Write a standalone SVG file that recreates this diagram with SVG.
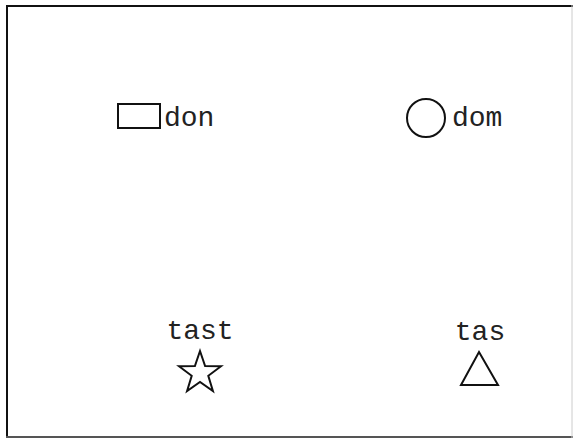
<svg xmlns="http://www.w3.org/2000/svg" width="575" height="440" viewBox="0 0 575 440">
<style>
.t{font-family:"Liberation Mono","Courier New",monospace;font-size:28px;fill:#222}
.s{fill:none;stroke:#111;stroke-width:2}
</style>
<rect width="575" height="440" fill="#fff"/>
<g id="frame">
<line x1="7" y1="5" x2="7" y2="438" stroke="#111" stroke-width="2"/>
<line x1="6" y1="6" x2="573" y2="6" stroke="#111" stroke-width="2"/>
<line x1="6" y1="437" x2="573" y2="437" stroke="#555" stroke-width="2"/>
<line x1="572" y1="5" x2="572" y2="438" stroke="#ccc" stroke-width="1"/>
</g>
<g id="don">
<rect class="s" x="118" y="104" width="42" height="24"/>
<text class="t" x="164" y="126">don</text>
</g>
<g id="dom">
<circle class="s" cx="426" cy="118" r="19"/>
<text class="t" x="452" y="126">dom</text>
</g>
<g id="tast">
<text class="t" x="200" y="339" text-anchor="middle">tast</text>
<polygon class="s" points="200,351 205.1,366 221,366.2 208.3,375.8 212.9,391 200,381.9 187.1,391 191.7,375.8 179,366.2 194.9,366"/>
</g>
<g id="tas">
<text class="t" x="480" y="340" text-anchor="middle">tas</text>
<polygon class="s" points="479,352 498,385 461,385"/>
</g>
<g id="connectors"></g>
</svg>
